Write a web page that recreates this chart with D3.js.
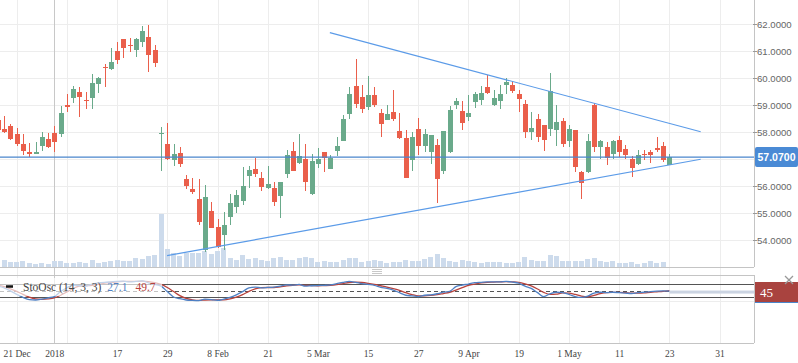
<!DOCTYPE html>
<html>
<head>
<meta charset="utf-8">
<script src="https://cdn.jsdelivr.net/npm/d3@7"></script>
<style>
  body { margin: 0; background: #fff; }
  svg { display: block; }
</style>
</head>
<body>
<svg id="chart" width="798" height="363"></svg>
<script>
// candles start one bar left of the visible edge (index -1)
const firstIdx = -1;

const opens = [58.44, 58.11, 58.22, 57.93, 57.56, 57.26, 57.20, 57.49, 57.73, 57.96,
  57.94, 59.00, 59.27, 59.47, 59.20, 59.27, 59.79, 60.41, 60.33, 61.00,
  61.44, 61.22, 61.05, 61.35, 61.52, 61.04, 57.94, 57.56, 56.96, 57.22,
  56.26, 55.90, 55.53, 53.63, 55.07, 54.48, 54.19, 54.86, 55.23, 55.46,
  56.38, 56.63, 56.30, 55.94, 55.91, 55.64, 56.43, 57.30, 56.86, 57.00,
  55.72, 56.81, 57.26, 56.64, 57.30, 57.67, 58.68, 59.70, 59.30, 58.93,
  59.37, 58.70, 58.44, 58.74, 58.04, 57.78, 56.96, 58.11, 57.49, 57.26,
  57.52, 56.57, 57.27, 59.00, 58.78, 58.56, 59.11, 59.19, 59.67, 59.00,
  59.15, 59.74, 59.74, 59.41, 59.04, 58.00, 58.48, 58.26, 58.11, 58.07,
  58.41, 57.67, 58.07, 56.52, 56.52, 59.00, 57.44, 57.44, 57.19, 57.70,
  57.37, 57.00, 56.81, 57.19, 57.26, 57.41, 57.48, 56.78];
const highs = [58.55, 58.59, 58.30, 58.14, 57.93, 57.59, 57.63, 58.00, 57.96, 58.22,
  58.96, 59.41, 59.72, 59.67, 59.48, 60.14, 60.05, 60.52, 61.11, 61.33,
  61.44, 61.48, 61.48, 61.91, 61.96, 61.22, 58.19, 58.35, 57.56, 57.44,
  56.41, 56.30, 56.26, 56.04, 55.42, 54.78, 55.02, 55.70, 55.86, 56.70,
  56.74, 57.05, 56.51, 56.75, 56.16, 56.15, 57.33, 57.63, 57.93, 57.56,
  57.19, 57.41, 57.26, 57.15, 57.81, 58.63, 59.67, 60.70, 59.74, 60.07,
  59.67, 58.85, 59.00, 59.56, 58.70, 58.07, 58.00, 58.52, 58.11, 57.89,
  57.74, 58.04, 58.96, 59.26, 59.15, 59.37, 59.48, 59.70, 60.11, 59.56,
  59.74, 60.00, 59.89, 59.56, 59.19, 58.74, 58.67, 58.26, 60.19, 59.00,
  58.52, 58.26, 58.07, 56.56, 57.93, 59.07, 57.70, 57.63, 57.70, 57.85,
  57.52, 57.11, 57.33, 57.33, 57.33, 57.81, 57.63, 57.19];
const lows = [58.00, 57.95, 57.69, 57.49, 57.14, 57.06, 57.20, 57.31, 57.42, 57.27,
  57.81, 58.75, 59.07, 58.57, 58.85, 58.85, 59.44, 59.68, 60.31, 60.53,
  60.75, 60.98, 60.79, 61.16, 60.23, 60.42, 56.57, 56.96, 56.75, 56.70,
  55.89, 55.70, 54.54, 53.57, 54.46, 53.69, 53.63, 54.56, 55.01, 55.30,
  55.91, 56.35, 55.83, 55.89, 55.27, 54.80, 56.31, 56.57, 56.81, 55.83,
  55.67, 56.67, 56.53, 56.64, 57.11, 57.67, 58.48, 58.89, 58.70, 58.81,
  58.93, 57.81, 58.44, 58.41, 57.74, 56.30, 56.56, 57.15, 57.25, 56.81,
  55.38, 56.46, 57.23, 58.85, 58.07, 58.41, 58.89, 59.00, 59.41, 58.96,
  58.85, 59.41, 59.44, 58.74, 57.78, 57.70, 57.63, 57.30, 57.85, 57.48,
  57.44, 57.44, 56.52, 55.52, 56.48, 57.26, 57.00, 56.78, 57.00, 57.07,
  57.00, 56.33, 56.78, 56.96, 56.85, 57.26, 56.89, 56.78];
const closes = [58.07, 58.01, 57.74, 57.57, 57.31, 57.17, 57.26, 57.80, 57.46, 57.63,
  58.70, 58.94, 59.59, 59.30, 59.17, 59.81, 60.00, 60.37, 60.59, 60.67,
  61.12, 61.19, 61.44, 61.74, 60.86, 60.57, 57.98, 57.00, 57.19, 56.81,
  56.01, 55.78, 54.68, 55.59, 54.46, 53.75, 54.56, 55.37, 55.67, 56.00,
  56.60, 56.46, 55.98, 56.06, 55.42, 56.15, 57.15, 56.57, 57.11, 56.16,
  56.93, 57.00, 57.05, 57.05, 57.48, 58.48, 59.41, 59.04, 58.85, 59.37,
  59.00, 58.30, 58.67, 58.48, 57.78, 56.30, 57.81, 57.49, 57.93, 57.89,
  56.27, 58.04, 58.81, 59.15, 58.35, 58.70, 59.41, 59.44, 59.44, 59.26,
  59.41, 59.85, 59.52, 59.22, 58.00, 58.15, 57.81, 57.70, 59.52, 58.37,
  57.56, 58.11, 56.70, 56.11, 57.67, 57.46, 57.67, 57.05, 57.67, 57.26,
  57.15, 56.67, 57.15, 57.15, 57.15, 57.33, 56.96, 57.07];
const volumes = [60, 67, 53, 47, 63, 43, 33, 43, 33, 63,
  63, 43, 43, 53, 43, 73, 43, 53, 63, 73,
  63, 63, 93, 83, 113, 123, 533, 183, 143, 113,
  143, 143, 143, 163, 133, 163, 193, 93, 73, 123,
  83, 93, 73, 63, 93, 103, 73, 73, 93, 103,
  93, 53, 63, 53, 53, 73, 93, 93, 53, 63,
  73, 63, 43, 53, 53, 73, 63, 63, 83, 103,
  133, 93, 63, 53, 73, 63, 53, 43, 53, 53,
  53, 43, 43, 53, 103, 73, 63, 63, 123, 113,
  63, 63, 63, 63, 83, 93, 63, 53, 63, 43,
  43, 53, 33, 43, 63, 43, 53, 5];

const stochK = [70, 62, 48, 32, 18, 8, 6, 10, 16, 22,
  45, 62, 75, 72, 70, 80, 85, 88, 90, 92,
  93, 90, 92, 95, 85, 78, 70, 45, 20, 12,
  6, 4, 3, 10, 8, 4, 10, 18, 30, 45,
  62, 66, 62, 64, 66, 70, 76, 75, 78, 70,
  72, 73, 74, 76, 82, 88, 92, 88, 82, 78,
  74, 65, 60, 52, 40, 28, 25, 22, 28, 30,
  35, 42, 46, 68, 75, 80, 86, 88, 90, 90,
  90, 92, 89, 84, 70, 60, 40, 22, 35, 42,
  40, 32, 22, 18, 24, 38, 42, 40, 42, 40,
  38, 36, 40, 42, 45, 47, 48, 47];
const stochD = [74, 68, 58, 46, 32, 19, 11, 9, 11, 16,
  28, 43, 60, 70, 72, 74, 78, 84, 88, 90,
  92, 92, 92, 93, 91, 86, 78, 64, 45, 26,
  13, 7, 4, 6, 7, 7, 7, 11, 19, 31,
  46, 58, 63, 64, 64, 67, 71, 74, 76, 74,
  73, 72, 73, 74, 77, 82, 87, 89, 87, 83,
  78, 72, 66, 59, 51, 40, 31, 25, 25, 27,
  31, 36, 41, 52, 63, 74, 80, 85, 88, 89,
  90, 91, 90, 88, 81, 71, 57, 41, 32, 33,
  39, 38, 32, 24, 21, 27, 35, 40, 41, 41,
  40, 38, 38, 39, 42, 44, 46, 49.7];

// x labels sit on every 8th bar, "2018" marks the year change
const labelIdx = [2, 8, 18, 26, 34, 42, 50, 58, 66, 74, 82, 90, 98, 106, 114];
const labelText = ["21 Dec", "2018", "17", "29", "8 Feb", "21", "5 Mar", "15", "27", "9 Apr", "19", "1 May", "11", "23", "31"];
const gridIdx = [2, 10, 18, 26, 34, 42, 50, 58, 66, 74, 82, 90, 98, 106, 114];
const yearIdx = 8;
const priceTicks = [54, 55, 56, 57, 58, 59, 60, 61, 62];
// 57 is covered by the last-price tag
const priceLabels = [54, 55, 56, 58, 59, 60, 61, 62];

// triangle drawn on the chart
const upperIdx = [51.9, 111];
const upperPrice = [61.68, 58.01];
const lowerIdx = [25.96, 111];
const lowerPrice = [53.42, 56.99];

const lastPrice = 57.07;
const oscLevels = [20, 80];
const oscMid = 50;

const green = "#6aaa8b", red = "#ea5f4b";
const plotR = 754;

const svg = d3.select("#chart");
const x = d3.scaleLinear().domain([2, 106]).range([16.7, 669.3]);
const y = d3.scaleLinear().domain([53, 62.889]).range([267, 0]);
const yVol = d3.scaleLinear().domain([0, 1000]).range([267, 167]);
const yOsc = d3.scaleLinear().domain([0, 100]).range([301.3, 279.7]);

const bars = opens.map((o, i) => ({
  i: firstIdx + i, o: o, h: highs[i], l: lows[i], c: closes[i], v: volumes[i]
}));

const defs = svg.append("defs");
defs.append("clipPath").attr("id", "clipP")
  .append("rect").attr("x", 0).attr("y", 0).attr("width", plotR).attr("height", 267);
defs.append("clipPath").attr("id", "clipO")
  .append("rect").attr("x", 0).attr("y", 275).attr("width", plotR).attr("height", 68);

//grid
const grid = svg.append("g").attr("shape-rendering", "crispEdges");
grid.selectAll(".vg").data(gridIdx).join("line")
  .attr("x1", d => Math.round(x(d)) + 0.5).attr("x2", d => Math.round(x(d)) + 0.5)
  .attr("y1", 0).attr("y2", 343)
  .attr("stroke", "#ededed");
grid.selectAll(".hg").data(priceTicks).join("line")
  .attr("x1", 0).attr("x2", plotR)
  .attr("y1", d => Math.round(y(d)) + 0.5).attr("y2", d => Math.round(y(d)) + 0.5)
  .attr("stroke", "#ededed");
grid.append("line")
  .attr("x1", 0).attr("x2", plotR)
  .attr("y1", Math.round(yOsc(0)) + 0.5).attr("y2", Math.round(yOsc(0)) + 0.5)
  .attr("stroke", "#ededed");
grid.append("line")
  .attr("x1", Math.round(x(yearIdx)) + 0.5).attr("x2", Math.round(x(yearIdx)) + 0.5)
  .attr("y1", 0).attr("y2", 343)
  .attr("stroke", "#c8c8c8");

// volume
const price = svg.append("g").attr("clip-path", "url(#clipP)");
price.append("g").attr("shape-rendering", "crispEdges")
  .selectAll("rect").data(bars).join("rect")
  .attr("x", d => x(d.i) - 2.5)
  .attr("width", 5)
  .attr("y", d => yVol(d.v))
  .attr("height", d => 267 - yVol(d.v))
  .attr("fill", "#cddbec");

// candles
const candle = price.append("g").attr("shape-rendering", "crispEdges")
  .selectAll("g").data(bars).join("g");
candle.append("line")
  .attr("x1", d => Math.round(x(d.i)) + 0.5).attr("x2", d => Math.round(x(d.i)) + 0.5)
  .attr("y1", d => y(d.h)).attr("y2", d => y(d.l))
  .attr("stroke", d => d.c >= d.o ? green : red)
  .attr("stroke-width", 1);
candle.append("rect")
  .attr("x", d => Math.round(x(d.i)) - 2)
  .attr("width", 5)
  .attr("y", d => y(Math.max(d.o, d.c)))
  .attr("height", d => Math.max(1, Math.abs(y(d.o) - y(d.c))))
  .attr("fill", d => d.c >= d.o ? green : red);

// trend lines
const tline = d3.line().x(d => x(d[0])).y(d => y(d[1]));
price.append("path")
  .attr("d", tline(upperIdx.map((d, k) => [d, upperPrice[k]])))
  .attr("fill", "none").attr("stroke", "#5b9be8").attr("stroke-width", 1.2);
price.append("path")
  .attr("d", tline(lowerIdx.map((d, k) => [d, lowerPrice[k]])))
  .attr("fill", "none").attr("stroke", "#5b9be8").attr("stroke-width", 1.2);

// last price line
price.append("line")
  .attr("x1", 0).attr("x2", plotR)
  .attr("y1", y(lastPrice)).attr("y2", y(lastPrice))
  .attr("stroke", "#4a86cc").attr("stroke-width", 1.3);

// frames
const frame = svg.append("g").attr("shape-rendering", "crispEdges").attr("stroke", "#c4c4c4");
frame.append("line").attr("x1", plotR + 0.5).attr("x2", plotR + 0.5).attr("y1", 0).attr("y2", 267);
frame.append("line").attr("x1", 0).attr("x2", plotR).attr("y1", 267.5).attr("y2", 267.5);
frame.append("line").attr("x1", 0).attr("x2", plotR).attr("y1", 275.5).attr("y2", 275.5);
frame.append("line").attr("x1", plotR + 0.5).attr("x2", plotR + 0.5).attr("y1", 275).attr("y2", 343);
frame.append("line").attr("x1", 0).attr("x2", plotR).attr("y1", 343.5).attr("y2", 343.5);

// drag handle
svg.append("g").attr("shape-rendering", "crispEdges")
  .selectAll("line").data([269.5, 271.5, 273.5]).join("line")
  .attr("x1", 372).attr("x2", 382).attr("y1", d => d).attr("y2", d => d)
  .attr("stroke", "#c8c8c8");

// y axis
const yAxis = d3.axisRight(y).tickValues(priceLabels).tickSize(4).tickFormat(d3.format(".4f"));
const ya = svg.append("g").attr("transform", `translate(${plotR - 1},0)`).call(yAxis);
ya.select(".domain").remove();
ya.selectAll("line").attr("stroke", "#999");
ya.selectAll("text")
  .attr("x", 4).attr("fill", "#666")
  .style("font-family", "'Liberation Sans', Arial, sans-serif").style("font-size", "9.6px");

// last price tag
const py = y(lastPrice);
svg.append("rect").attr("x", 755).attr("y", py - 10).attr("width", 43).attr("height", 20)
  .attr("rx", 2).attr("fill", "#4a8ad5");
svg.append("text").attr("x", 776.5).attr("y", py + 4)
  .attr("text-anchor", "middle").attr("fill", "#fff")
  .style("font-family", "'Liberation Sans', Arial, sans-serif").style("font-size", "10.5px")
  .style("font-weight", "bold")
  .text(d3.format(".4f")(lastPrice));

// oscillator
const osc = svg.append("g").attr("clip-path", "url(#clipO)");
osc.append("g").attr("shape-rendering", "crispEdges")
  .selectAll("line").data(oscLevels).join("line")
  .attr("x1", 0).attr("x2", plotR)
  .attr("y1", d => Math.round(yOsc(d)) + 0.5).attr("y2", d => Math.round(yOsc(d)) + 0.5)
  .attr("stroke", "#555").attr("stroke-width", 1.2);
osc.append("line")
  .attr("x1", 0).attr("x2", plotR)
  .attr("y1", Math.round(yOsc(oscMid)) + 0.5).attr("y2", Math.round(yOsc(oscMid)) + 0.5)
  .attr("stroke", "#555").attr("stroke-dasharray", "4,3");

const lastI = bars[bars.length - 1].i;
osc.append("rect")
  .attr("x", x(lastI)).attr("width", plotR - x(lastI))
  .attr("y", yOsc(stochD[stochD.length - 1]))
  .attr("height", 3)
  .attr("fill", "#cbd4e2");

const oline = d3.line().x((d, k) => x(firstIdx + k)).y(d => yOsc(d)).curve(d3.curveMonotoneX);
osc.append("path").attr("d", oline(stochD))
  .attr("fill", "none").attr("stroke", "#b8423c").attr("stroke-width", 1.3);
osc.append("path").attr("d", oline(stochK))
  .attr("fill", "none").attr("stroke", "#4f80c4").attr("stroke-width", 1.3);

// legend
svg.append("rect").attr("x", 0).attr("y", 278).attr("width", 162).attr("height", 18)
  .attr("fill", "#fff").attr("opacity", 0.65);
svg.append("line").attr("x1", 6).attr("x2", 13).attr("y1", 286.5).attr("y2", 286.5)
  .attr("stroke", "#111").attr("stroke-width", 2.5);
const leg = svg.append("text").attr("x", 23).attr("y", 290.5)
  .style("font-family", "'Liberation Serif', 'Times New Roman', serif").style("font-size", "11.5px");
leg.append("tspan").attr("fill", "#444").text("StoOsc (14, 3, 3)");
leg.append("tspan").attr("fill", "#4f80c4").attr("dx", 6).text("27.1");
leg.append("tspan").attr("fill", "#b8423c").attr("dx", 8).text("49.7");

// oscillator tag
svg.append("rect").attr("x", 755).attr("y", 282).attr("width", 43).attr("height", 20)
  .attr("fill", "#a9433f");
svg.append("line").attr("x1", 755).attr("x2", 798).attr("y1", 302.5).attr("y2", 302.5)
  .attr("stroke", "#4a86cc");
svg.append("text").attr("x", 760).attr("y", 296.5).attr("fill", "#fff")
  .style("font-family", "'Liberation Serif', 'Times New Roman', serif").style("font-size", "13px")
  .text("45");
svg.append("g").attr("stroke", "#999").attr("stroke-width", 1.2)
  .selectAll("line").data([[785, 276, 793, 284], [793, 276, 785, 284]]).join("line")
  .attr("x1", d => d[0]).attr("y1", d => d[1]).attr("x2", d => d[2]).attr("y2", d => d[3]);

// x axis
const xAxis = d3.axisBottom(x).tickValues(labelIdx).tickSize(0)
  .tickFormat((d, k) => labelText[k]);
const xa = svg.append("g").attr("transform", "translate(0,343)").call(xAxis);
xa.select(".domain").remove();
xa.selectAll("text")
  .attr("y", 7).attr("fill", "#444")
  .style("font-family", "'Liberation Serif', 'Times New Roman', serif").style("font-size", "9.5px");
</script>
</body>
</html>
